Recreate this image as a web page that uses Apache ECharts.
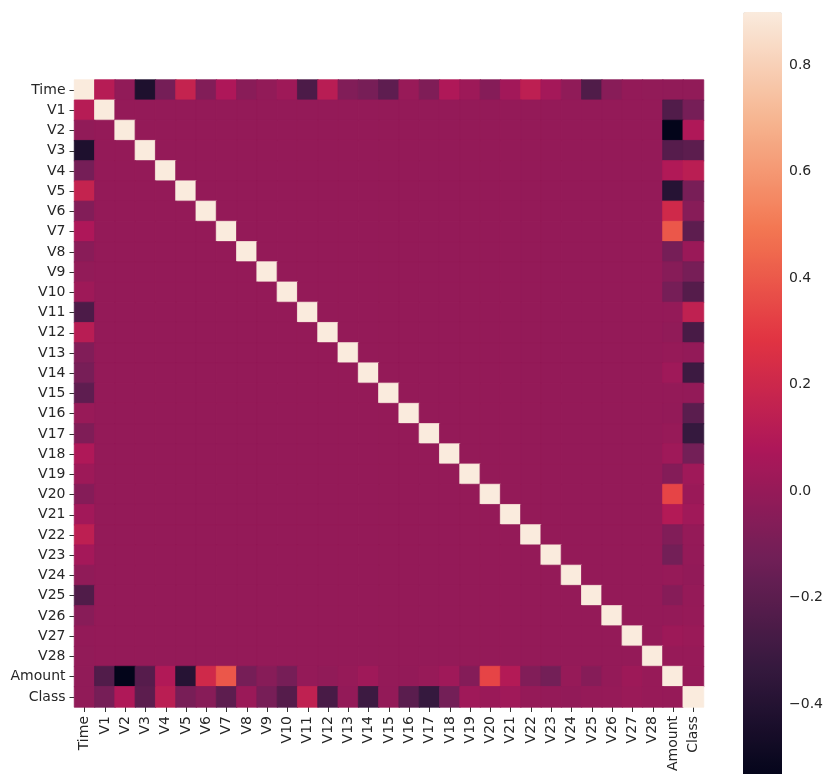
<!DOCTYPE html>
<html>
<head>
<meta charset="utf-8">
<script src="https://cdn.jsdelivr.net/npm/echarts@6/dist/echarts.min.js"></script>
<style>html,body{margin:0;padding:0;background:#fff;}#c{width:826px;height:774px;}</style>
</head>
<body>
<div id="c"></div>
<script>
const labels = ['Time','V1','V2','V3','V4','V5','V6','V7','V8','V9','V10','V11','V12','V13','V14','V15','V16','V17','V18','V19','V20','V21','V22','V23','V24','V25','V26','V27','V28','Amount','Class'];
// correlation of Time with V1..V28, Amount, Class
const timeCorr = [0.117, -0.011, -0.420, -0.105, 0.173, -0.063, 0.085, -0.037, -0.009, 0.031, -0.248, 0.124, -0.066, -0.099, -0.183, 0.012, -0.073, 0.090, 0.029, -0.051, 0.045, 0.144, 0.051, -0.016, -0.233, -0.041, -0.005, -0.009, -0.011, -0.012];
// correlation of Amount with V1..V28, Class
const amountCorr = [-0.228, -0.531, -0.211, 0.099, -0.386, 0.216, 0.397, -0.103, -0.044, -0.102, 0.000, -0.010, 0.005, 0.034, -0.003, -0.004, 0.007, 0.036, -0.056, 0.339, 0.106, -0.065, -0.113, 0.005, -0.048, -0.003, 0.029, 0.010, 0.006];
// correlation of Class with V1..V28
const classCorr = [-0.101, 0.091, -0.193, 0.133, -0.095, -0.044, -0.187, 0.020, -0.098, -0.217, 0.155, -0.261, -0.005, -0.303, -0.004, -0.197, -0.326, -0.111, 0.035, 0.020, 0.040, 0.001, -0.003, -0.007, 0.003, 0.005, 0.018, 0.010];
const colorbarTicks = [-0.4, -0.2, 0.0, 0.2, 0.4, 0.6, 0.8];
const vMin = -0.531, vMax = 0.9;
const rocket = ['#03051a','#35193e','#701f57','#ad1759','#e13342','#f37651','#f6b48f','#faebdd'];

// Build symmetric correlation matrix (PCA components V1..V28 mutually uncorrelated)
const n = labels.length;
const M = [];
for (let i = 0; i < n; i++) { M.push(new Array(n).fill(0)); M[i][i] = 1; }
const iA = n - 2, iC = n - 1;
for (let k = 1; k < n; k++) { M[0][k] = M[k][0] = timeCorr[k - 1]; }
for (let k = 1; k <= 28; k++) { M[iA][k] = M[k][iA] = amountCorr[k - 1]; M[iC][k] = M[k][iC] = classCorr[k - 1]; }
M[iA][iC] = M[iC][iA] = amountCorr[28];
const data = [];
for (let r = 0; r < n; r++) for (let c = 0; c < n; c++) {
  const v = M[r][c];
  const t = Math.max(0, Math.min(1, (v - vMin) / (vMax - vMin)));
  data.push({value: [c, r, v], itemStyle: {borderColor: echarts.color.lerp(t, rocket), borderWidth: 0.8}});
}

const font = 'DejaVu Sans';
const chart = echarts.init(document.getElementById('c'), null, {renderer: 'canvas'});
chart.setOption({
  backgroundColor: '#fff',
  animation: false,
  grid: [
    {left: 74.5, top: 80, width: 629, height: 627},
    {left: 743, top: 12, width: 39, height: 765}
  ],
  xAxis: [
    {type: 'category', data: labels, gridIndex: 0,
     axisLine: {show: false}, splitLine: {show: false},
     axisTick: {show: true, alignWithLabel: true, length: 5, lineStyle: {color: '#333'}},
     axisLabel: {rotate: 90, interval: 0, margin: 9, color: '#262626', fontFamily: font, fontSize: 14}},
    {type: 'value', gridIndex: 1, show: false, min: 0, max: 1}
  ],
  yAxis: [
    {type: 'category', data: labels, inverse: true, gridIndex: 0,
     axisLine: {show: false}, splitLine: {show: false},
     axisTick: {show: true, alignWithLabel: true, length: 5, lineStyle: {color: '#333'}},
     axisLabel: {interval: 0, margin: 9, color: '#262626', fontFamily: font, fontSize: 14}},
    {type: 'value', gridIndex: 1, position: 'right', min: vMin, max: vMax,
     axisLine: {show: false}, splitLine: {show: false},
     axisTick: {show: true, length: 5, lineStyle: {color: '#333'}, customValues: colorbarTicks},
     axisLabel: {margin: 8, color: '#262626', fontFamily: font, fontSize: 14, customValues: colorbarTicks,
       formatter: v => (v < -1e-9 ? '\u2212' : '') + Math.abs(v).toFixed(1)}}
  ],
  visualMap: {
    type: 'continuous', min: vMin, max: vMax, seriesIndex: 0,
    calculable: false, orient: 'vertical', left: 743, top: 12,
    itemWidth: 39, itemHeight: 765, padding: 0, text: null,
    inRange: {color: rocket}, borderWidth: 0
  },
  series: [{
    type: 'heatmap', xAxisIndex: 0, yAxisIndex: 0, data: data,
    emphasis: {disabled: true}
  }]
});
</script>
</body>
</html>
